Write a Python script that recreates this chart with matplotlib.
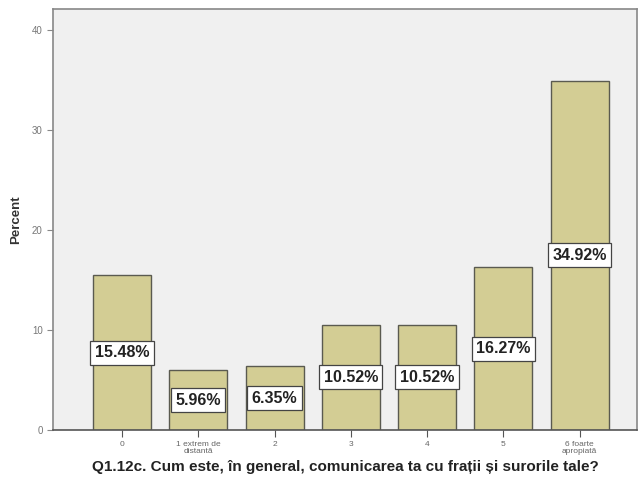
import numpy as np
import matplotlib.pyplot as plt

plt.rcParams['font.family'] = ['Liberation Sans', 'DejaVu Sans']

# Q1.12c answer distribution
categories = ["0", "1 extrem de\ndistantă", "2", "3", "4", "5", "6 foarte\napropiată"]
percents = [15.48, 5.96, 6.35, 10.52, 10.52, 16.27, 34.92]
y_ticks = [0, 10, 20, 30, 40]

bar_color = "#d3cd94"
edge_color = "#5a5a50"
panel_color = "#f0f0f0"

fig = plt.figure(figsize=(6.42, 4.88), dpi=100)
ax = fig.add_axes([0.0826, 0.119, 0.9094, 0.8626])
ax.set_facecolor(panel_color)

x = np.arange(len(categories))
bars = ax.bar(x, percents, width=0.76, color=bar_color, edgecolor=edge_color, linewidth=1.0)

for xi, v in zip(x, percents):
    ax.text(xi, v / 2, "%.2f%%" % v, ha="center", va="center",
            fontsize=11.5, fontweight="bold", color="#222222",
            bbox=dict(boxstyle="square,pad=0.28", facecolor="white",
                      edgecolor="#444444", linewidth=0.9))

ax.set_xlim(-0.904, 6.75)
ax.set_ylim(0, 42.1)
ax.set_yticks(y_ticks)
ax.set_xticks(x)
ax.set_xticklabels(categories, fontsize=6, color="#666666", linespacing=0.9)
ax.tick_params(axis="y", labelsize=7, labelcolor="#777777", length=4, color="#888888")
ax.tick_params(axis="x", length=5, color="#555555", pad=3)

for side in ["top", "right", "left", "bottom"]:
    ax.spines[side].set_color("#888888")
    ax.spines[side].set_linewidth(1.2)
ax.spines["bottom"].set_color("#555555")

ax.set_ylabel("Percent", fontsize=9.5, fontweight="bold", color="#333333", labelpad=7)
ax.set_xlabel("Q1.12c. Cum este, în general, comunicarea ta cu frații și surorile tale?",
              fontsize=11, fontweight="bold", color="#222222", labelpad=4)

fig.savefig("out.png", dpi=100)
